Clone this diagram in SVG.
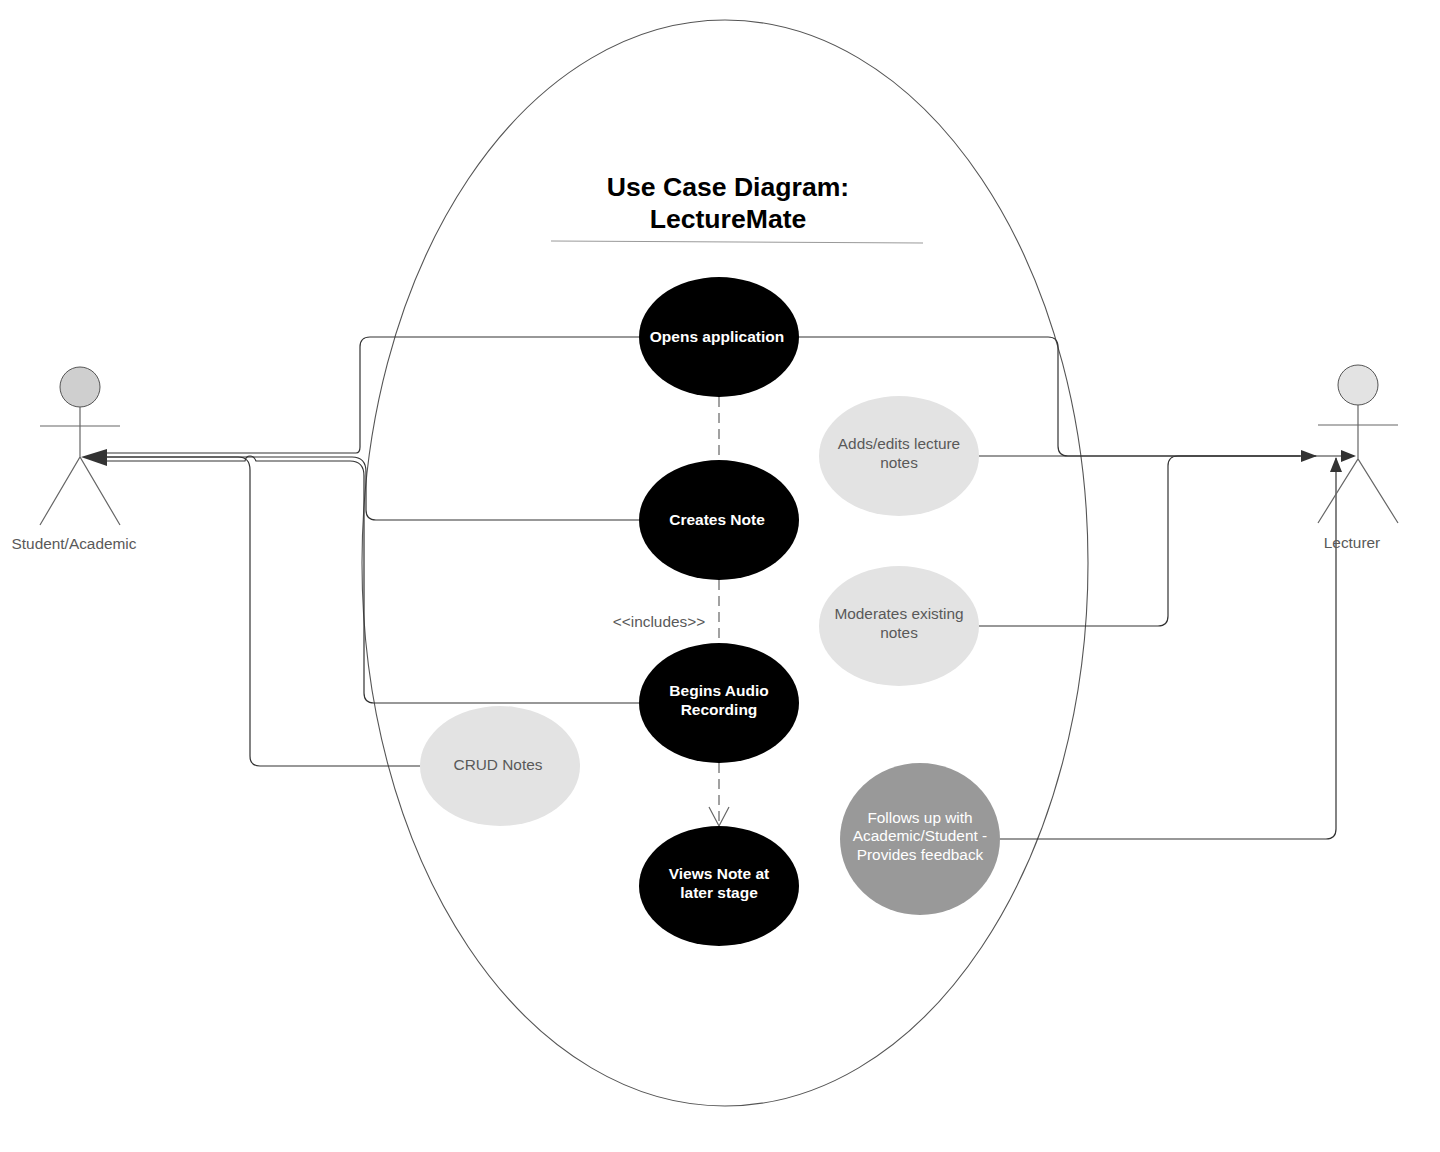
<svg xmlns="http://www.w3.org/2000/svg" width="1440" height="1152" viewBox="0 0 1440 1152">
<style>
text{font-family:"Liberation Sans",Arial,sans-serif;font-size:15.4px;text-anchor:middle;fill:#595959}
.b{fill:#fff;font-weight:bold;font-size:15.5px}
.w{fill:#fff}
.t{fill:#000;font-weight:bold;font-size:26.6px}
.c{fill:none;stroke:#333;stroke-width:1.2}
.d{fill:none;stroke:#555;stroke-width:1.1;stroke-dasharray:10 6}
.a{fill:none;stroke:#666;stroke-width:1.2}
.k{fill:#000}
.l{fill:#e3e3e3}
.h{fill:#333}
</style>
<rect width="1440" height="1152" fill="#fff"/>
<g id="boundary"><ellipse cx="725" cy="563" rx="363" ry="543" fill="none" stroke="#555" stroke-width="1.1"/></g>
<g id="title"><text class="t" x="728" y="196">Use Case Diagram:</text><text class="t" x="728" y="228">LectureMate</text><path d="M551 241L923 243" stroke="#999" fill="none"/></g>
<g id="connectors">
<path class="d" d="M719 397V460M719 580V643M719 763V826"/>
<path class="a" d="M709 807L719 826L729 807"/>
<path class="c" d="M639 337H370Q360 337 360 347V447Q360 453 356 453H100"/>
<path class="c" d="M639 520H376Q366 520 366 510V472Q366 457 352 457H100"/>
<path class="c" d="M639 703H374Q364 703 364 693V476Q364 461 350 461H256Q254 456 250 456Q246 456 245 461H100"/>
<path class="c" d="M420 766H260Q250 766 250 756V470Q250 457 238 457H100"/>
<path class="c" d="M799 337H1048Q1058 337 1058 347V446Q1058 456 1068 456H1316"/>
<path class="c" d="M979 456H1354"/>
<path class="c" d="M979 626H1158Q1168 626 1168 616V466Q1168 456 1178 456H1300"/>
<path class="c" d="M1000 839H1326Q1336 839 1336 829V458"/>
<path class="h" d="M81 457L107 449V466Z"/>
<path class="h" d="M1317 456L1301 450V462Z"/>
<path class="h" d="M1356 456L1341 450V462Z"/>
<path class="h" d="M1336 457L1330 472H1342Z"/>
</g>
<g id="student"><circle cx="80" cy="387" r="20" fill="#cfcfcf" stroke="#555"/><path class="a" d="M80 407V457M40 426H120M40 525L80 457L120 525"/><text x="74" y="549">Student/Academic</text></g>
<g id="lecturer"><circle cx="1358" cy="385" r="20" fill="#e3e3e3" stroke="#555"/><path class="a" d="M1358 405V459M1318 425H1398M1318 523L1358 459L1398 523"/><text x="1352" y="548">Lecturer</text></g>
<g id="opens"><ellipse class="k" cx="719" cy="337" rx="80" ry="60"/><text class="b" x="717" y="342">Opens application</text></g>
<g id="creates"><ellipse class="k" cx="719" cy="520" rx="80" ry="60"/><text class="b" x="717" y="525">Creates Note</text></g>
<g id="audio"><ellipse class="k" cx="719" cy="703" rx="80" ry="60"/><text class="b" x="719" y="696">Begins Audio</text><text class="b" x="719" y="715">Recording</text></g>
<g id="views"><ellipse class="k" cx="719" cy="886" rx="80" ry="60"/><text class="b" x="719" y="879">Views Note at</text><text class="b" x="719" y="898">later stage</text></g>
<g id="adds"><ellipse class="l" cx="899" cy="456" rx="80" ry="60"/><text x="899" y="449">Adds/edits lecture</text><text x="899" y="468">notes</text></g>
<g id="moderates"><ellipse class="l" cx="899" cy="626" rx="80" ry="60"/><text x="899" y="619">Moderates existing</text><text x="899" y="638">notes</text></g>
<g id="crud"><ellipse class="l" cx="500" cy="766" rx="80" ry="60"/><text x="498" y="770">CRUD Notes</text></g>
<g id="follows"><ellipse cx="920" cy="839" rx="80" ry="76" fill="#999"/><text class="w" x="920" y="823">Follows up with</text><text class="w" x="920" y="841">Academic/Student -</text><text class="w" x="920" y="860">Provides feedback</text></g>
<g id="includes"><text x="659" y="627">&lt;&lt;includes&gt;&gt;</text></g>
</svg>
